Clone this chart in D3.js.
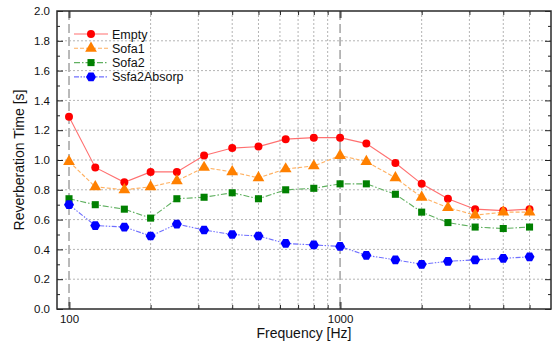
<!DOCTYPE html>
<html><head><meta charset="utf-8">
<script src="https://cdn.jsdelivr.net/npm/d3@7"></script>
<style>body{margin:0;background:#fff}svg{display:block}text{font-family:"Liberation Sans",Arial,sans-serif}</style>
</head><body>
<svg id="c" width="560" height="344"></svg>
<script>
const freqs = [100,125,160,200,250,315,400,500,630,800,1000,1250,1600,2000,2500,3150,4000,5000];
const empty = [1.29,0.95,0.85,0.92,0.92,1.03,1.08,1.09,1.14,1.15,1.15,1.11,0.98,0.84,0.74,0.67,0.66,0.67];
const sofa1 = [0.99,0.82,0.80,0.82,0.86,0.95,0.92,0.88,0.94,0.96,1.03,0.99,0.88,0.75,0.68,0.63,0.65,0.65];
const sofa2 = [0.74,0.70,0.67,0.61,0.74,0.75,0.78,0.74,0.80,0.81,0.84,0.84,0.77,0.65,0.58,0.55,0.54,0.55];
const absorp = [0.70,0.56,0.55,0.49,0.57,0.53,0.50,0.49,0.44,0.43,0.42,0.36,0.33,0.30,0.32,0.33,0.34,0.35];
const seriesNames = ["Empty","Sofa1","Sofa2","Ssfa2Absorp"];
const xTickLabels = [100,1000];
const xGrid = [200,300,400,500,600,700,800,900,2000,3000,4000,5000];
const yTicks = [0,0.2,0.4,0.6,0.8,1.0,1.2,1.4,1.6,1.8,2.0];

const L=57, R=551, T=11, B=309;
const svg = d3.select("#c");
const x = d3.scaleLog().domain([90.3,6000]).range([L,R]);
const y = d3.scaleLinear().domain([0,2]).range([B,T]);

// grid
const g = svg.append("g");
g.selectAll(".vg").data(xGrid).enter().append("line")
 .attr("x1",d=>x(d)).attr("x2",d=>x(d)).attr("y1",T).attr("y2",B)
 .attr("stroke","#b4b4b4").attr("stroke-width",1).attr("stroke-dasharray","2,2");
g.selectAll(".vm").data(xTickLabels).enter().append("line")
 .attr("x1",d=>x(d)).attr("x2",d=>x(d)).attr("y1",T).attr("y2",B)
 .attr("stroke","#a8a8a8").attr("stroke-width",1.6).attr("stroke-dasharray","9,4");
g.selectAll(".hg").data(yTicks.filter(v=>v>0&&v<2)).enter().append("line")
 .attr("x1",L).attr("x2",R).attr("y1",d=>y(d)).attr("y2",d=>y(d))
 .attr("stroke","#b4b4b4").attr("stroke-width",1).attr("stroke-dasharray","2,2");

// axes (inward ticks)
const minorY = d3.range(0.1,2.0,0.2);
function addAxis(axis, tr){ const a = svg.append("g").attr("transform",tr).call(axis); a.select(".domain").remove(); a.selectAll("line").attr("stroke","#222"); return a;}
let a = addAxis(d3.axisLeft(y).tickValues(yTicks).tickSize(-6).tickPadding(7).tickFormat(d3.format(".1f")), `translate(${L},0)`);
a.selectAll("text").attr("font-size",11.5).attr("fill","#111").attr("font-family","'Liberation Sans',Arial,sans-serif");
addAxis(d3.axisLeft(y).tickValues(minorY).tickSize(-3).tickFormat(""), `translate(${L},0)`);
addAxis(d3.axisRight(y).tickValues(yTicks).tickSize(-6).tickFormat(""), `translate(${R},0)`);
addAxis(d3.axisRight(y).tickValues(minorY).tickSize(-3).tickFormat(""), `translate(${R},0)`);
a = addAxis(d3.axisBottom(x).tickValues(xTickLabels).tickSize(-7).tickPadding(6).tickFormat(d3.format("d")), `translate(0,${B})`);
a.selectAll("line").attr("stroke-width",2).attr("stroke","#555");
a.selectAll("text").attr("font-size",11.5).attr("fill","#111").attr("font-family","'Liberation Sans',Arial,sans-serif");
addAxis(d3.axisBottom(x).tickValues(xGrid).tickSize(-4).tickFormat(""), `translate(0,${B})`);
a = addAxis(d3.axisTop(x).tickValues(xTickLabels).tickSize(-7).tickFormat(""), `translate(0,${T})`);
a.selectAll("line").attr("stroke-width",2).attr("stroke","#555");
addAxis(d3.axisTop(x).tickValues(xGrid).tickSize(-4).tickFormat(""), `translate(0,${T})`);

svg.append("rect").attr("x",L).attr("y",T).attr("width",R-L).attr("height",B-T)
 .attr("fill","none").attr("stroke","#2a2a2a").attr("stroke-width",1.5);

// titles
svg.append("text").attr("x",(L+R)/2).attr("y",338).attr("text-anchor","middle").attr("font-size",14).attr("fill","#111").text("Frequency [Hz]");
svg.append("text").attr("transform",`translate(24,${(T+B)/2}) rotate(-90)`).attr("text-anchor","middle").attr("font-size",14).attr("fill","#111").text("Reverberation Time [s]");

// series
const hex = (r)=>{ const p=[]; for(let i=0;i<6;i++){const an=Math.PI/3*i; p.push([r*Math.cos(an), r*Math.sin(an)]);} return "M"+p.map(q=>q.join(",")).join("L")+"Z"; };
const series = [
 {name:seriesNames[0], vals:empty, line:"#ff7070", mk:"#ff0000", dash:null, sym:d3.symbol(d3.symbolCircle,50)()},
 {name:seriesNames[1], vals:sofa1, line:"#ffb060", mk:"#ff8000", dash:"4,2", sym:d3.symbol(d3.symbolTriangle,60)()},
 {name:seriesNames[2], vals:sofa2, line:"#60b060", mk:"#008000", dash:"6,2,1.5,2", sym:d3.symbol(d3.symbolSquare,50)()},
 {name:seriesNames[3], vals:absorp, line:"#7070ff", mk:"#0000ff", dash:"5,1.5,1.5,1.5,1.5,1.5", sym:hex(5)}
];
const line = d3.line().x((d,i)=>x(freqs[i])).y(d=>y(d));
series.forEach(s=>{
 svg.append("path").datum(s.vals).attr("d",line).attr("fill","none").attr("stroke",s.line).attr("stroke-width",1.1).attr("stroke-dasharray",s.dash);
 svg.selectAll(null).data(s.vals).enter().append("path").attr("d",s.sym)
  .attr("transform",(d,i)=>`translate(${x(freqs[i])},${y(d)})`).attr("fill",s.mk);
});

// legend
const lg = svg.append("g");
series.forEach((s,i)=>{
 const yy = 34 + i*14.3;
 lg.append("line").attr("x1",74).attr("x2",108).attr("y1",yy).attr("y2",yy).attr("stroke",s.line).attr("stroke-width",1.1).attr("stroke-dasharray",s.dash);
 lg.append("path").attr("d",s.sym).attr("transform",`translate(91,${yy})`).attr("fill",s.mk);
 lg.append("text").attr("x",112).attr("y",yy+4.5).attr("font-size",12.5).attr("fill","#111").text(s.name);
});
</script>
</body></html>
